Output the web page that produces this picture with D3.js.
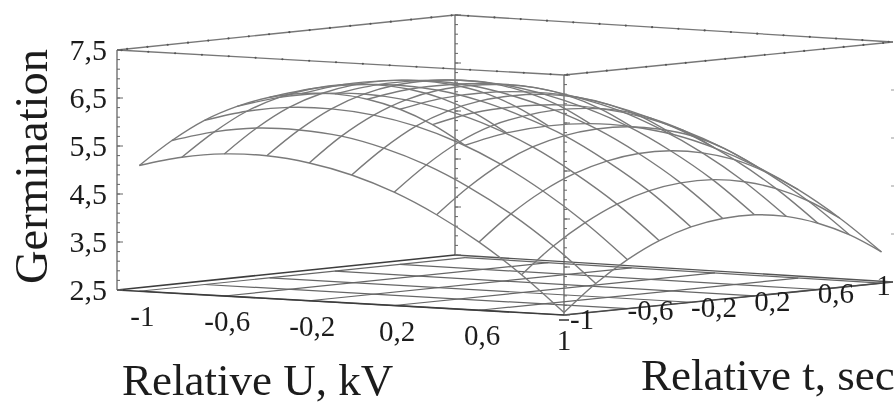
<!DOCTYPE html>
<head>
  <meta charset="utf-8">
  <script src="https://d3js.org/d3.v7.min.js"></script>
  <style>
    body { margin:0; background:#fff; overflow:hidden; }
    text { font-family:"Liberation Serif", serif; fill:#1c1c1c; }
  </style>
</head>

<body>
  <script>
    // axis values
    var gridU = [-1, -0.8, -0.6, -0.4, -0.2, 0, 0.2, 0.4, 0.6, 0.8, 1]
    var gridT = [-1, -0.8, -0.6, -0.4, -0.2, 0, 0.2, 0.4, 0.6, 0.8, 1]
    var floorTicks = [-1, -0.6, -0.2, 0.2, 0.6, 1]
    var floorLabels = ["-1", "-0,6", "-0,2", "0,2", "0,6", "1"]
    var zTicks = [2.5, 3.5, 4.5, 5.5, 6.5, 7.5]
    var zLabels = ["2,5", "3,5", "4,5", "5,5", "6,5", "7,5"]

    // germination, one row per U, columns follow gridT
    var germU0  = [5.12, 5.57, 5.92, 6.14, 6.26, 6.27, 6.19, 6.01, 5.73, 5.34, 4.84]
    var germU1  = [5.34, 5.80, 6.16, 6.38, 6.49, 6.51, 6.43, 6.27, 6.01, 5.64, 5.15]
    var germU2  = [5.46, 5.93, 6.29, 6.51, 6.62, 6.64, 6.57, 6.42, 6.18, 5.82, 5.35]
    var germU3  = [5.47, 5.94, 6.31, 6.55, 6.67, 6.69, 6.63, 6.49, 6.25, 5.91, 5.45]
    var germU4  = [5.37, 5.86, 6.23, 6.48, 6.61, 6.64, 6.59, 6.46, 6.23, 5.89, 5.44]
    var germU5  = [5.17, 5.66, 6.05, 6.30, 6.44, 6.48, 6.44, 6.31, 6.09, 5.77, 5.33]
    var germU6  = [4.86, 5.36, 5.76, 6.03, 6.17, 6.23, 6.20, 6.09, 5.86, 5.54, 5.10]
    var germU7  = [4.44, 4.95, 5.36, 5.65, 5.82, 5.89, 5.87, 5.75, 5.54, 5.21, 4.77]
    var germU8  = [3.92, 4.44, 4.85, 5.15, 5.34, 5.43, 5.42, 5.31, 5.10, 4.77, 4.34]
    var germU9  = [3.29, 3.82, 4.24, 4.56, 4.77, 4.87, 4.87, 4.76, 4.55, 4.23, 3.80]
    var germU10 = [2.55, 3.09, 3.52, 3.85, 4.07, 4.18, 4.19, 4.09, 3.88, 3.57, 3.15]
    var surface = [germU0, germU1, germU2, germU3, germU4, germU5, germU6, germU7, germU8, germU9, germU10]

    var svg = d3.select("body").append("svg")
      .attr("width", 895)
      .attr("height", 405)

    var defs = svg.append("defs")
    defs.append("filter").attr("id", "soft")
      .append("feGaussianBlur").attr("stdDeviation", 0.5)
    defs.append("filter").attr("id", "softText")
      .append("feGaussianBlur").attr("stdDeviation", 0.35)

    // the four floor corners of the box, the picture is a slanted view of it
    var cornerL = [117, 290], cornerF = [564, 315], cornerR = [893, 282], cornerB = [455, 255]

    // scales: data to fractions along the box edges, z to pixels of lift
    var scaleU = d3.scaleLinear().domain([-1, 1]).range([0.05, 1])
    var scaleT = d3.scaleLinear().domain([-1, 1]).range([0, 0.965])
    var scaleZ = d3.scaleLinear().domain([2.5, 7.5]).range([0, 240])

    function fracPoint(a, b) {
      var x0 = cornerL[0] + (cornerB[0] - cornerL[0]) * b, y0 = cornerL[1] + (cornerB[1] - cornerL[1]) * b
      var x1 = cornerF[0] + (cornerR[0] - cornerF[0]) * b, y1 = cornerF[1] + (cornerR[1] - cornerF[1]) * b
      return [x0 + (x1 - x0) * a, y0 + (y1 - y0) * a]
    }

    function project(u, t, z) {
      var p = fracPoint(scaleU(u), scaleT(t))
      return [p[0], p[1] - scaleZ(z)]
    }

    var wire = d3.line().curve(d3.curveCatmullRom.alpha(0.5))
    var straight = d3.line()

    var chart = svg.append("g").attr("filter", "url(#soft)")

    // box: floor edges, top edges, uprights
    function edge(a, b, lift, color, w) {
      chart.append("path")
        .attr("d", straight([[a[0], a[1] - lift], [b[0], b[1] - lift]]))
        .attr("fill", "none").attr("stroke", color).attr("stroke-width", w)
    }
    var top_ = scaleZ(7.5)
    edge(cornerL, cornerB, top_, "#777", 1.3)
    edge(cornerB, cornerR, top_, "#777", 1.3)
    edge(cornerR, cornerF, top_, "#777", 1.3)
    edge(cornerF, cornerL, top_, "#777", 1.3)
    edge(cornerL, [cornerL[0], cornerL[1] - top_], 0, "#666", 1.3)
    edge(cornerF, [cornerF[0], cornerF[1] - top_], 0, "#666", 1.3)
    edge(cornerB, [cornerB[0], cornerB[1] - top_], 0, "#666", 1.3)

    // floor grid
    floorTicks.forEach(function(v) {
      var a = [project(v, -1, 2.5), project(v, 1, 2.5)]
      var b = [project(-1, v, 2.5), project(1, v, 2.5)]
      chart.append("path").attr("d", straight(a)).attr("fill", "none").attr("stroke", "#666").attr("stroke-width", 1.2)
      chart.append("path").attr("d", straight(b)).attr("fill", "none").attr("stroke", "#666").attr("stroke-width", 1.2)
    })
    edge(cornerL, cornerF, 0, "#3c3c3c", 1.6)
    edge(cornerF, cornerR, 0, "#4a4a4a", 1.6)
    edge(cornerL, cornerB, 0, "#3c3c3c", 1.6)
    edge(cornerB, cornerR, 0, "#555", 1.4)

    // tick under the front corner
    edge([cornerF[0] - 5, cornerF[1] + 5], [cornerF[0] + 5, cornerF[1] + 5], 0, "#333", 1.5)

    // little ticks on the uprights
    var zMinor = d3.range(2.5, 7.51, 0.2)
    ;[cornerL, cornerF, cornerB].forEach(function(c) {
      chart.selectAll(null).data(zMinor).enter().append("line")
        .attr("x1", c[0]).attr("x2", c[0] + 3)
        .attr("y1", function(z) { return c[1] - scaleZ(z) })
        .attr("y2", function(z) { return c[1] - scaleZ(z) })
        .attr("stroke", "#666").attr("stroke-width", 1)
      chart.selectAll(null).data(zTicks).enter().append("line")
        .attr("x1", c[0]).attr("x2", c[0] + 6)
        .attr("y1", function(z) { return c[1] - scaleZ(z) })
        .attr("y2", function(z) { return c[1] - scaleZ(z) })
        .attr("stroke", "#666").attr("stroke-width", 1)
    })
    // only the ticks are left of the right upright
    chart.selectAll(null).data(zTicks.slice(1, 5)).enter().append("line")
      .attr("x1", cornerR[0] - 2).attr("x2", cornerR[0] + 1)
      .attr("y1", function(z) { return cornerR[1] - scaleZ(z) })
      .attr("y2", function(z) { return cornerR[1] - scaleZ(z) })
      .attr("stroke", "#999").attr("stroke-width", 1)

    // little ticks along the top edges
    var edgeSteps = d3.range(0.03, 1, 0.06)
    ;[[cornerL, cornerB], [cornerB, cornerR], [cornerR, cornerF], [cornerF, cornerL]].forEach(function(pair) {
      chart.selectAll(null).data(edgeSteps).enter().append("circle")
        .attr("cx", function(f) { return pair[0][0] + (pair[1][0] - pair[0][0]) * f })
        .attr("cy", function(f) { return pair[0][1] + (pair[1][1] - pair[0][1]) * f - top_ })
        .attr("r", 1.1)
        .attr("fill", "#555")
    })

    // wire surface: one curve per U, one curve per t
    surface.forEach(function(row, i) {
      var pts = row.map(function(z, j) { return project(gridU[i], gridT[j], z) })
      chart.append("path").attr("d", wire(pts)).attr("fill", "none")
        .attr("stroke", "#7a7a7a").attr("stroke-width", 1.4)
    })
    gridT.forEach(function(t, j) {
      var pts = surface.map(function(row, i) { return project(gridU[i], t, row[j]) })
      chart.append("path").attr("d", wire(pts)).attr("fill", "none")
        .attr("stroke", "#7a7a7a").attr("stroke-width", 1.4)
    })

    var labels = svg.append("g").attr("filter", "url(#softText)")

    // z labels
    labels.selectAll(".zlabel").data(zLabels).enter().append("text")
      .attr("class", "zlabel")
      .attr("x", 107)
      .attr("y", function(d, i) { return cornerL[1] - scaleZ(zTicks[i]) + 10 })
      .attr("text-anchor", "end")
      .attr("font-size", 30)
      .text(function(d) { return d })

    // U labels hang under the front-left floor edge
    labels.selectAll(".ulabel").data(floorLabels).enter().append("text")
      .attr("class", "ulabel")
      .attr("x", function(d, i) { return project(floorTicks[i], -1, 2.5)[0] + (i == 5 ? 0 : 3) })
      .attr("y", function(d, i) { return project(floorTicks[i], -1, 2.5)[1] + 35 })
      .attr("text-anchor", "middle")
      .attr("font-size", 29)
      .text(function(d) { return d })

    // t labels sit on the front-right floor edge, each a bit differently
    var tNudgeX = [18, 23, 23, 18, 18, 2]
    var tNudgeY = [14, 11, 15, 15, 13, 12]
    labels.selectAll(".tlabel").data(floorLabels).enter().append("text")
      .attr("class", "tlabel")
      .attr("x", function(d, i) { return project(1, floorTicks[i], 2.5)[0] + tNudgeX[i] })
      .attr("y", function(d, i) { return project(1, floorTicks[i], 2.5)[1] + tNudgeY[i] })
      .attr("text-anchor", "middle")
      .attr("font-size", 29)
      .text(function(d) { return d })

    // axis titles
    labels.append("text").attr("x", 122).attr("y", 395).attr("font-size", 45).text("Relative U, kV")
    labels.append("text").attr("x", 641).attr("y", 390).attr("font-size", 45).text("Relative t, sec")
    labels.append("text")
      .attr("transform", "translate(47,284) rotate(-90)")
      .attr("font-size", 46.5)
      .text("Germination")
  </script>
</body>
